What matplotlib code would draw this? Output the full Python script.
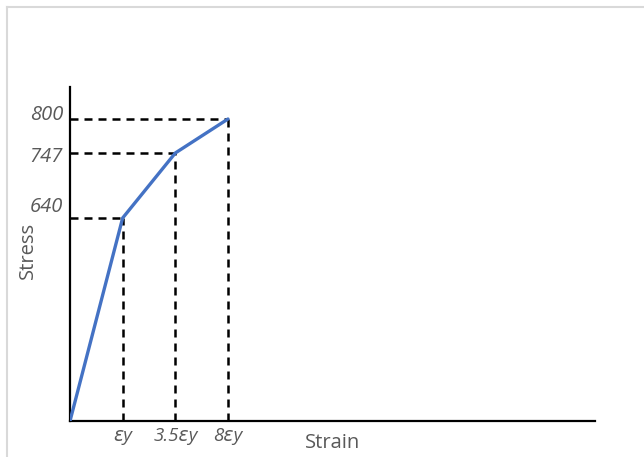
import numpy as np
import matplotlib
matplotlib.use("Agg")
import matplotlib.pyplot as plt
from matplotlib.lines import Line2D

# schematic stress-strain data
strain_labels = ["ɛy", "3.5ɛy", "8ɛy"]
strain_pos = [0, 1, 2, 3]          # schematic positions (0, εy, 3.5εy, 8εy)
stress = [0, 640, 747, 800]

# the picture is schematic: stress axis is not linear
stress_knots = [0, 640, 747, 800, 850]
height_knots = [0, 203, 268, 302, 334]

def fwd(y):
    return np.interp(y, stress_knots, height_knots)

def inv(h):
    return np.interp(h, height_knots, stress_knots)

plt.rcParams['font.family'] = ['Open Sans', 'DejaVu Sans']
grey = '#595959'

fig = plt.figure(figsize=(6.44, 4.57), dpi=100)
W, H = 644, 457
ax = fig.add_axes([70 / W, 1 - 421 / H, (595 - 70) / W, (421 - 87) / H])
ax.set_yscale('function', functions=(fwd, inv))

# dashed guide lines
for x, y in zip(strain_pos[1:], stress[1:]):
    ax.plot([0, x], [y, y], color='black', lw=1.8, ls=(0, (3.2, 2.4)), zorder=2)
    ax.plot([x, x], [0, y], color='black', lw=1.8, ls=(0, (3.2, 2.4)), zorder=2)

ax.plot(strain_pos, stress, color='#4472C4', lw=2.4, zorder=3,
        solid_capstyle='round', solid_joinstyle='round')

ax.set_xlim(0, 9.97)
ax.set_ylim(0, 850)

for s in ['top', 'right']:
    ax.spines[s].set_visible(False)
for s in ['left', 'bottom']:
    ax.spines[s].set_linewidth(1.6)
    ax.spines[s].set_color('black')

ax.set_xticks(strain_pos[1:])
ax.set_xticklabels(strain_labels, fontstyle='italic', color=grey, fontsize=13.5)
ax.tick_params(axis='x', length=0, pad=4)
ax.set_yticks([])

# stress labels (slightly offset like the original)
offsets = {800: 4, 747: -4, 640: 11}
for y in stress[1:]:
    ax.annotate(str(y), xy=(0, y), xycoords=('axes fraction', 'data'),
                xytext=(-7, offsets[y]), textcoords='offset pixels',
                ha='right', va='center', fontstyle='italic', color=grey,
                fontsize=14.5)

fig.text(333 / W, 1 - 443 / H, 'Strain', ha='center', va='center',
         color=grey, fontsize=14.5)
fig.text(28 / W, 1 - 250 / H, 'Stress', ha='center', va='center',
         color=grey, fontsize=14.5, rotation=90)

# light frame of the original screenshot
fig.add_artist(Line2D([7 / W, 7 / W], [0, 1 - 7 / H], color='#d9d9d9', lw=1.5))
fig.add_artist(Line2D([7 / W, 1], [1 - 7 / H, 1 - 7 / H], color='#d9d9d9', lw=1.5))

fig.savefig('out.png', dpi=100)
